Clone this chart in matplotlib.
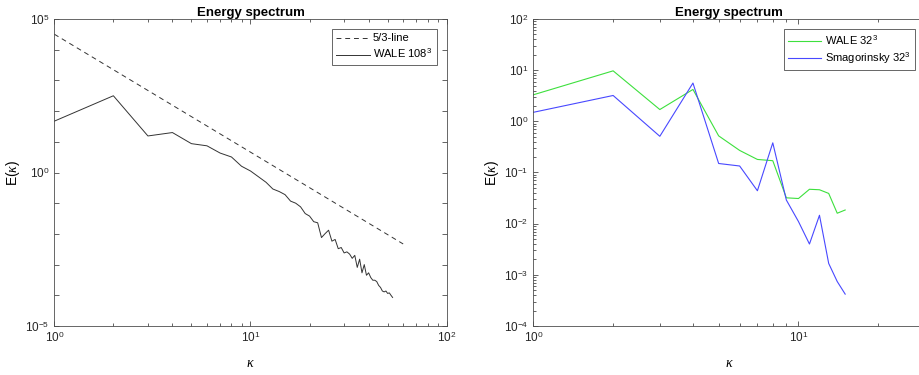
import math
import matplotlib
matplotlib.use('Agg')
import matplotlib.pyplot as plt
from matplotlib.ticker import FixedLocator, LogLocator, FuncFormatter, NullFormatter

plt.rcParams['font.family'] = ['Liberation Sans', 'DejaVu Sans']
plt.rcParams['mathtext.fontset'] = 'custom'
plt.rcParams['mathtext.rm'] = 'Liberation Sans'
plt.rcParams['mathtext.it'] = 'Liberation Serif:italic'
plt.rcParams['mathtext.bf'] = 'Liberation Sans:bold'

# left panel: 108^3 WALE spectrum and reference line
k_108 = list(range(1, 54))
E_wale_108 = [47, 316, 15.5, 20, 8.7, 7.4, 4.3, 3.2, 1.6, 1.12,
              0.72, 0.48, 0.29, 0.24, 0.19, 0.117, 0.10, 0.076, 0.046, 0.038,
              0.025, 0.023, 0.0076, 0.0102, 0.0132, 0.0058, 0.0066, 0.0033, 0.0036, 0.0024,
              0.0026, 0.0022, 0.0016, 0.0020, 0.00081, 0.0015, 0.00054, 0.0010, 0.00045, 0.00054,
              0.00038, 0.00031, 0.00031, 0.00028, 0.00021, 0.00018, 0.000138, 0.000129, 0.000138, 0.000115,
              0.00012, 0.0001, 0.000085]
k_line = [1, 60]
E_line = [3.2e4, 4.7e-3]

# right panel: 32^3 comparisons
k_32 = list(range(1, 16))
E_wale_32 = [3.3, 9.7, 1.7, 4.2, 0.52, 0.27, 0.18, 0.17, 0.032, 0.031,
             0.047, 0.046, 0.039, 0.016, 0.0185]
E_smag_32 = [1.5, 3.2, 0.51, 5.6, 0.15, 0.134, 0.044, 0.38, 0.029, 0.011,
             0.004, 0.0146, 0.00167, 0.00074, 0.00042]

# tick decades
x_dec_left = [0, 1, 2]
y_dec_left = list(range(-5, 6))
x_dec_right = [0, 1]
y_dec_right = list(range(-4, 3))

W, H = 920, 375
fig = plt.figure(figsize=(W / 100, H / 100), dpi=100)
ax1 = fig.add_axes([54.3 / W, 1 - 326 / H, (446.7 - 54.3) / W, (326 - 19) / H])
ax2 = fig.add_axes([533.3 / W, 1 - 326 / H, (925 - 533.3) / W, (326 - 19) / H])

spine_col = '#262626'
fs = 8.5


def pow_label(v, pos, show=None):
    e = int(round(math.log10(v)))
    if show is not None and e not in show:
        return ''
    return '10$^{%d}$' % e


def style(ax, xdec, ydec, ylabels=None, yminor=True):
    ax.set_xscale('log')
    ax.set_yscale('log')
    ax.tick_params(which='both', direction='in', top=True, right=True,
                   colors=spine_col, labelsize=fs, labelcolor='#262626')
    ax.tick_params(which='major', length=3.5, width=0.5)
    ax.tick_params(which='minor', length=2, width=0.5)
    for s in ax.spines.values():
        s.set_color('#4d4d4d')
        s.set_linewidth(0.6)
    ax.set_title('Energy spectrum', fontsize=9.5, fontweight='bold', pad=1.5)
    ax.set_xlabel(r'$\kappa$', fontsize=10, labelpad=8)
    ax.set_ylabel(r'E($\kappa$)', fontsize=10, labelpad=2)
    ax.xaxis.set_major_locator(FixedLocator([10.0 ** e for e in xdec]))
    ax.xaxis.set_minor_locator(LogLocator(base=10, subs=range(2, 10), numticks=20))
    ax.xaxis.set_major_formatter(FuncFormatter(pow_label))
    ax.xaxis.set_minor_formatter(NullFormatter())
    ax.yaxis.set_major_locator(FixedLocator([10.0 ** e for e in ydec]))
    if yminor:
        ax.yaxis.set_minor_locator(LogLocator(base=10, subs=range(2, 10), numticks=20))
    else:
        ax.yaxis.set_minor_locator(FixedLocator([]))
    ax.yaxis.set_major_formatter(FuncFormatter(lambda v, p: pow_label(v, p, show=ylabels)))
    ax.yaxis.set_minor_formatter(NullFormatter())


def legend(ax):
    leg = ax.legend(loc='upper right', fontsize=8, handlelength=3.0, handletextpad=0.3,
                    borderaxespad=0.9, fancybox=False, framealpha=1, labelspacing=0.35,
                    borderpad=0.4)
    leg.get_frame().set_edgecolor('#4d4d4d')
    leg.get_frame().set_linewidth(0.6)


# left plot
ax1.plot(k_line, E_line, linestyle=(0, (5, 4)), color='#333333', linewidth=0.7, label='5/3-line')
ax1.plot(k_108, E_wale_108, color='#333333', linewidth=0.7, label='WALE 108$^3$')
style(ax1, x_dec_left, y_dec_left, ylabels=(-5, 0, 5), yminor=False)
ax1.set_xlim(1, 100)
ax1.set_ylim(1e-5, 1e5)
legend(ax1)

# right plot
ax2.plot(k_32, E_wale_32, color='#3de03d', linewidth=0.8, label='WALE 32$^3$')
ax2.plot(k_32, E_smag_32, color='#4848ff', linewidth=0.8, label='Smagorinsky 32$^3$')
style(ax2, x_dec_right, y_dec_right)
ax2.set_xlim(1, 30)
ax2.set_ylim(1e-4, 1e2)
legend(ax2)

fig.savefig('out.png', dpi=100)
